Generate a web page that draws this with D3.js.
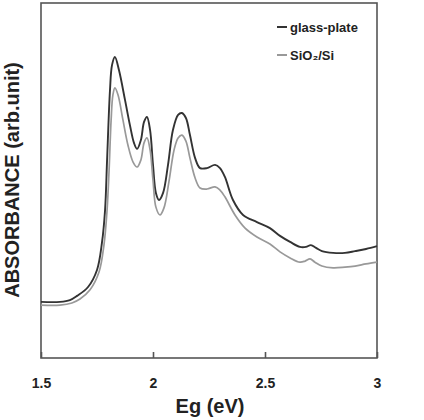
<!DOCTYPE html>
<html><head><meta charset="utf-8">
<script src="https://cdn.jsdelivr.net/npm/d3@7"></script>
<style>body{margin:0;background:#fff}svg{display:block}text{font-family:"Liberation Sans",Arial,sans-serif;font-weight:bold}</style>
</head><body><svg id="c" width="424" height="420"></svg>
<script>
const xTicks = [1.5, 2, 2.5, 3];
const xTickLabels = ["1.5", "2", "2.5", "3"];
const seriesNames = ["glass-plate", "SiO\u2082/Si"];
const glassE = [1.5,1.585,1.629,1.661,1.71,1.75,1.772,1.786,1.795,1.808,1.817,1.83,1.848,1.875,1.897,1.915,1.929,1.946,1.96,1.973,1.987,2.0,2.013,2.027,2.045,2.067,2.089,2.112,2.129,2.147,2.165,2.188,2.21,2.241,2.277,2.299,2.321,2.357,2.402,2.464,2.522,2.567,2.612,2.656,2.683,2.705,2.728,2.754,2.804,2.857,2.902,2.951,3.0];
const glassA = [0.158,0.158,0.163,0.175,0.2,0.248,0.324,0.417,0.558,0.755,0.825,0.848,0.811,0.727,0.656,0.606,0.589,0.614,0.665,0.679,0.642,0.544,0.465,0.445,0.465,0.544,0.642,0.685,0.69,0.676,0.628,0.563,0.535,0.535,0.544,0.535,0.51,0.445,0.403,0.383,0.366,0.344,0.327,0.313,0.313,0.318,0.31,0.301,0.296,0.296,0.301,0.307,0.315];
const sioE = [1.5,1.585,1.638,1.674,1.719,1.759,1.781,1.795,1.804,1.813,1.821,1.83,1.844,1.866,1.888,1.911,1.929,1.946,1.96,1.973,1.987,2.0,2.013,2.031,2.049,2.071,2.094,2.112,2.129,2.147,2.165,2.188,2.21,2.241,2.277,2.299,2.321,2.366,2.411,2.464,2.522,2.567,2.612,2.656,2.679,2.701,2.723,2.754,2.804,2.857,2.902,2.951,3.0];
const sioA = [0.149,0.149,0.155,0.166,0.192,0.242,0.318,0.417,0.53,0.67,0.741,0.761,0.741,0.67,0.6,0.552,0.538,0.558,0.606,0.62,0.586,0.501,0.425,0.403,0.423,0.496,0.586,0.62,0.628,0.611,0.563,0.507,0.479,0.476,0.482,0.473,0.454,0.403,0.366,0.341,0.321,0.299,0.282,0.27,0.273,0.279,0.27,0.259,0.254,0.256,0.259,0.265,0.27];

const svg = d3.select("#c");
const L = 41, R = 377, T = 3, B = 358;
const x = d3.scaleLinear().domain([1.5, 3]).range([L, R]);
const y = d3.scaleLinear().domain([0, 1]).range([B, T]);
const frame = "#555";

// frame
svg.append("rect").attr("x", L).attr("y", T).attr("width", R - L).attr("height", B - T)
  .attr("fill", "none").attr("stroke", frame).attr("stroke-width", 1.6);

// x axis ticks (inward)
const ax = svg.append("g").attr("transform", `translate(0,${B})`)
  .call(d3.axisBottom(x).tickValues(xTicks).tickFormat((d, i) => xTickLabels[i]).tickSizeInner(-6).tickSizeOuter(0).tickPadding(20));
ax.select(".domain").remove();
ax.selectAll("line").attr("stroke", frame).attr("stroke-width", 1.6);
ax.selectAll("text").attr("fill", "#222").style("font-size", "14px").style("font-weight", "bold")
  .style("font-family", '"Liberation Sans",Arial,sans-serif');

const line = d3.line().x(d => x(d[0])).y(d => y(d[1])).curve(d3.curveCatmullRom.alpha(0.5));
const series = [
  {name: seriesNames[0], pts: d3.zip(glassE, glassA), color: "#333", w: 1.9},
  {name: seriesNames[1], pts: d3.zip(sioE, sioA), color: "#999", w: 1.7}
];
svg.selectAll("path.s").data(series).join("path").attr("class", "s")
  .attr("d", d => line(d.pts)).attr("fill", "none")
  .attr("stroke", d => d.color).attr("stroke-width", d => d.w);

// legend
const lg = svg.selectAll("g.lg").data(series).join("g").attr("class", "lg")
  .attr("transform", (d, i) => `translate(277,${27 + i * 28})`);
lg.append("line").attr("x1", 0).attr("x2", 10).attr("stroke", d => d.color).attr("stroke-width", 2);
lg.append("text").attr("x", 13).attr("y", 4.5).attr("fill", "#222").style("font-size", "13px")
  .text(d => d.name);

// axis titles
svg.append("text").attr("x", 210).attr("y", 413).attr("text-anchor", "middle")
  .attr("fill", "#222").style("font-size", "20px").text("Eg (eV)");
svg.append("text").attr("transform", "translate(19,180) rotate(-90)").attr("text-anchor", "middle")
  .attr("fill", "#222").style("font-size", "20px").text("ABSORBANCE (arb.unit)");
</script></body></html>
